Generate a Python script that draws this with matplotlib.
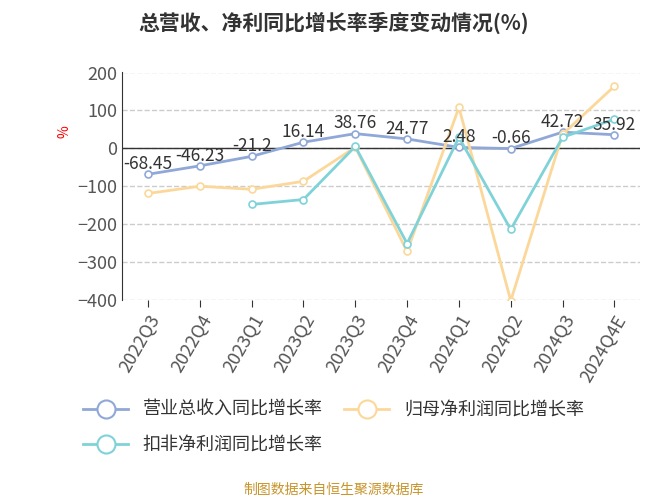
import matplotlib.pyplot as plt
import numpy as np

plt.rcParams['font.family'] = ['Noto Sans CJK SC', 'DejaVu Sans']

quarters = ["2022Q3", "2022Q4", "2023Q1", "2023Q2", "2023Q3", "2023Q4",
            "2024Q1", "2024Q2", "2024Q3", "2024Q4E"]
revenue = [-68.45, -46.23, -21.2, 16.14, 38.76, 24.77, 2.48, -0.66, 42.72, 35.92]
net_profit = [-119, -100, -108, -87, 3, -272, 108, -402, 37, 164]
deducted = [np.nan, np.nan, -148, -135, 5, -251, 29, -214, 29, 77]

c_rev = "#8fa8d8"
c_net = "#fbd89a"
c_ded = "#7fd3d8"

fig = plt.figure(figsize=(6.67, 5.0), dpi=100)
ax = fig.add_axes([0.183, 0.40, 0.777, 0.455])
x = np.arange(len(quarters))

ax.plot(x, revenue, color=c_rev, lw=2, marker='o', ms=5, mfc='white', mew=1.2, zorder=3)
ax.plot(x, net_profit, color=c_net, lw=2, marker='o', ms=5, mfc='white', mew=1.2, zorder=3)
ax.plot(x, deducted, color=c_ded, lw=2, marker='o', ms=5, mfc='white', mew=1.2, zorder=4)

for xi, v in zip(x, revenue):
    ax.text(xi, v + 3, f"{v:g}", ha='center', va='bottom', fontsize=12.5, color='#333333', zorder=5)

ax.set_ylim(-400, 200)
ax.set_xlim(-0.5, len(quarters) - 0.5)
ax.set_yticks(range(-400, 201, 100))
ax.tick_params(axis='y', labelsize=13, colors='#555555', length=0)
ax.set_xticks(x)
ax.set_xticklabels(quarters, rotation=60, ha='right', rotation_mode='anchor', fontsize=13, color='#555555')
ax.tick_params(axis='x', length=5, color='#333333')
ax.grid(axis='y', ls='--', color='#cccccc', lw=1)
for s in ['top', 'right', 'bottom']:
    ax.spines[s].set_visible(False)
ax.spines['left'].set_color('#333333')
ax.axhline(0, color='#333333', lw=1, zorder=2)
ax.text(-0.125, 0.74, "%", transform=ax.transAxes, color='red', fontsize=10, rotation=90, va='center')

fig.text(0.5, 0.955, "总营收、净利同比增长率季度变动情况(%)", ha='center', va='center',
         fontsize=15, fontweight='bold', color='#333333')

handles = [plt.Line2D([], [], color=c, lw=2, marker='o', ms=13, mfc='white', mew=1.5)
           for c in (c_rev, c_net, c_ded)]
labels = ["营业总收入同比增长率", "归母净利润同比增长率", "扣非净利润同比增长率"]
fig.legend(handles[:2], labels[:2], loc='center', bbox_to_anchor=(0.5, 0.18), ncol=2,
           frameon=False, fontsize=13, handlelength=2.5, columnspacing=1.2, labelcolor='#333333')
fig.legend(handles[2:], labels[2:], loc='center left', bbox_to_anchor=(0.10, 0.11),
           frameon=False, fontsize=13, handlelength=2.5, labelcolor='#333333')

fig.text(0.5, 0.02, "制图数据来自恒生聚源数据库", ha='center', va='center', fontsize=10, color='#c8952c')

fig.savefig("out.png", dpi=100)
